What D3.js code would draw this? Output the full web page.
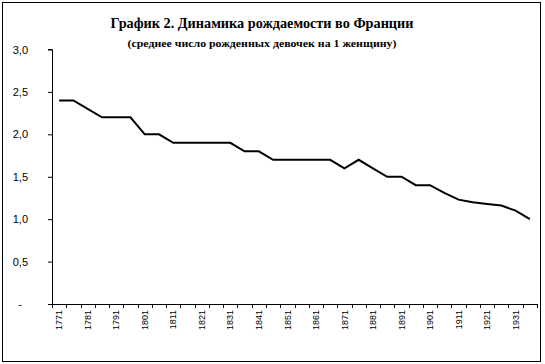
<!doctype html>
<html>
<head>
<meta charset="utf-8">
<title>График 2</title>
<style>
* {padding:0;margin:0}
body {background:#fff}
</style>
</head>
<body>
<div id="chart"></div>
<script src="https://d3js.org/d3.v7.min.js"></script>
<script>

const years = [1771,1776,1781,1786,1791,1796,1801,1806,1811,1816,1821,1826,1831,1836,1841,1846,1851,1856,
	1861,1866,1871,1876,1881,1886,1891,1896,1901,1906,1911,1916,1921,1926,1931,1936];
const births = [2.4,2.4,2.3,2.2,2.2,2.2,2.0,2.0,1.9,1.9,1.9,1.9,1.9,1.8,1.8,1.7,1.7,1.7,
	1.7,1.7,1.6,1.7,1.6,1.5,1.5,1.4,1.4,1.31,1.23,1.2,1.18,1.16,1.1,1.0];
const yTicks = [0,0.5,1.0,1.5,2.0,2.5,3.0];
const title = "График 2. Динамика рождаемости во Франции";
const subtitle = "(среднее число рожденных девочек на 1 женщину)";

const W = 545, H = 364;
const plotLeft = 52, plotRight = 537, plotTop = 49.5, plotBottom = 304;

const svg = d3.select("#chart").append("svg")
	.attr("width", W)
	.attr("height", H);

// рамка
svg.append("rect")
	.attr("x", 2.5).attr("y", 2.5)
	.attr("width", 538).attr("height", 359)
	.attr("fill", "none")
	.attr("stroke", "#000");

svg.append("text")
	.attr("x", 262).attr("y", 28)
	.attr("text-anchor", "middle")
	.attr("textLength", 303)
	.attr("lengthAdjust", "spacingAndGlyphs")
	.style("font", "bold 15px 'Liberation Serif', 'Times New Roman', serif")
	.text(title);

svg.append("text")
	.attr("x", 262).attr("y", 47)
	.attr("text-anchor", "middle")
	.attr("textLength", 269)
	.attr("lengthAdjust", "spacingAndGlyphs")
	.style("font", "bold 11px 'Liberation Serif', 'Times New Roman', serif")
	.text(subtitle);

const x = d3.scaleBand().domain(years).range([plotLeft, plotRight]).padding(0);
const y = d3.scaleLinear().domain([0, 3]).range([plotBottom, plotTop]);

// ось Y
const yAxis = d3.axisLeft(y)
	.tickValues(yTicks)
	.tickSize(4)
	.tickPadding(20)
	.tickFormat(function(d){ return d === 0 ? "-" : d3.format(".1f")(d).replace(".", ","); });

const gy = svg.append("g")
	.attr("transform", "translate(" + plotLeft + ",0)")
	.call(yAxis);
gy.select(".domain").attr("d", "M-4," + y(3) + "H0.5V" + plotBottom);
gy.selectAll("text")
	.style("font", "11px 'Liberation Sans', Arial, sans-serif")
	.attr("x", function(d){ return d === 0 ? -30 : -24; });

// ось X: подписи через одну категорию
const xAxis = d3.axisBottom(x)
	.tickValues(years.filter(function(d, i){ return i % 2 === 0; }))
	.tickSize(0)
	.tickFormat(d3.format("d"));

const gx = svg.append("g")
	.attr("transform", "translate(0," + plotBottom + ")")
	.call(xAxis);
gx.select(".domain").attr("d", "M" + plotLeft + ",0.5H" + plotRight);
gx.selectAll("text")
	.style("font", "9px 'Liberation Sans', Arial, sans-serif")
	.attr("transform", "rotate(-90)")
	.attr("text-anchor", "end")
	.attr("x", -6)
	.attr("y", 0)
	.attr("dy", "0.35em");

// деления на границах категорий
const edges = years.map(function(d){ return x(d); }).concat([x(years[years.length - 1]) + x.bandwidth()]);
gx.selectAll("line.edge").data(edges).enter()
	.append("line")
	.attr("class", "edge")
	.attr("x1", function(d){ return Math.round(d) + 0.5; })
	.attr("x2", function(d){ return Math.round(d) + 0.5; })
	.attr("y1", 0)
	.attr("y2", 4)
	.attr("stroke", "#000");

const line = d3.line()
	.x(function(d, i){ return x(years[i]) + x.bandwidth() / 2; })
	.y(function(d){ return y(d); });

svg.append("path")
	.datum(births)
	.attr("d", line)
	.attr("fill", "none")
	.attr("stroke", "#000")
	.attr("stroke-width", 2);

</script>
</body>
</html>
